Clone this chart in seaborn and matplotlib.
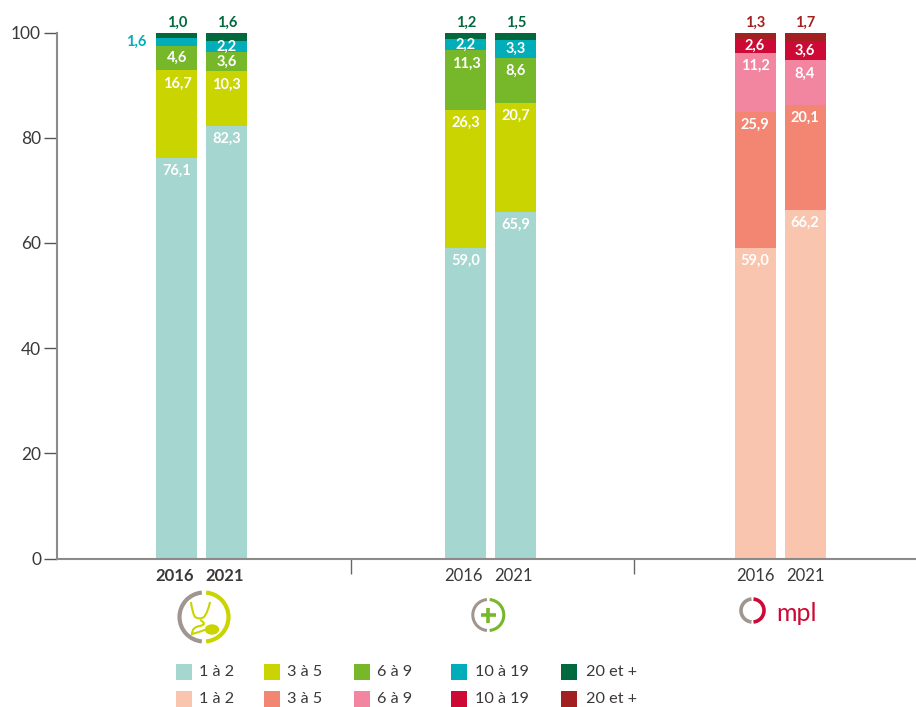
import pandas as pd
import seaborn as sns
import matplotlib.pyplot as plt
from matplotlib.patches import Arc, Ellipse, PathPatch, Rectangle
from matplotlib.path import Path
from matplotlib.transforms import ScaledTranslation

# Values
groups = ["medecins", "infirmiers", "ompl"]
years = ["2016", "2021"]
segments = ["1 à 2", "3 à 5", "6 à 9", "10 à 19", "20 et +"]
seg_1_2 = [76.1, 82.3, 59.0, 65.9, 59.0, 66.2]
seg_3_5 = [16.7, 10.3, 26.3, 20.7, 25.9, 20.1]
seg_6_9 = [4.6, 3.6, 11.3, 8.6, 11.2, 8.4]
seg_10_19 = [1.6, 2.2, 2.2, 3.3, 2.6, 3.6]
seg_20 = [1.0, 1.6, 1.2, 1.5, 1.3, 1.7]
all_segs = [seg_1_2, seg_3_5, seg_6_9, seg_10_19, seg_20]
yticks = [0, 20, 40, 60, 80, 100]

# Colours
colors_a = ["#a5d6cf", "#c9d400", "#77b82a", "#00adb9", "#00693e"]
colors_b = ["#f9c5af", "#f38573", "#f285a0", "#cc0a35", "#a32020"]
TXT = "#3c3838"
GREY = "#8f8a8a"

W, H = 916, 707
Y0, Y100 = 558.5, 32.5
X_LEFT = 57
px_per_unit = (Y0 - Y100) / 100

sns.set_theme(style="white")
plt.rcParams["font.family"] = ["Lato", "DejaVu Sans"]

fig = plt.figure(figsize=(W / 100, H / 100), dpi=100)
ax = fig.add_axes([X_LEFT / W, 1 - Y0 / H, 1 - X_LEFT / W, (Y0 - Y100) / H])

# long table, one row per segment of a bar
rows = []
for g in range(len(groups)):
    for y in range(len(years)):
        i = g * 2 + y
        top = 0
        for s in range(len(segments)):
            val = all_segs[s][i]
            top += val
            color = (colors_b if g == 2 else colors_a)[s]
            rows.append({"bar": i, "pos": g + (y - 0.5) * 0.173, "seg": s,
                         "value": val, "top": top, "color": color})
df = pd.DataFrame(rows)

# stacked by drawing the tallest cumulative first
for s in reversed(range(len(segments))):
    part = df[df["seg"] == s]
    sns.barplot(data=part, x="pos", y="top", hue="color",
                palette={c: c for c in part["color"].unique()},
                dodge=False, native_scale=True, width=0.82, saturation=1,
                errorbar=None, legend=False, linewidth=0, ax=ax)

ax.set_xlim(-0.5015, 2.4705)
ax.set_ylim(0, 100)
ax.set_xlabel("")
ax.set_ylabel("")

sns.despine(ax=ax, top=True, right=True)
for side in ["left", "bottom"]:
    ax.spines[side].set_color(GREY)
    ax.spines[side].set_linewidth(1.5)

ax.set_yticks(yticks)
ax.set_yticklabels([str(t) for t in yticks], fontsize=12.5, color=TXT)
ax.tick_params(axis="y", left=True, length=9.5, width=1, color="#555555", pad=2)

pos = df.drop_duplicates("bar")["pos"].tolist()
ax.set_xticks(pos)
ax.set_xticklabels(years * len(groups), fontsize=12, color=TXT)
ax.tick_params(axis="x", bottom=False, pad=1)
for lab in ax.get_xticklabels()[:2]:
    lab.set_fontweight("bold")
# year labels of the first two groups sit a little left of their bars
nudge = ScaledTranslation(-2.5 / 100, 0, fig.dpi_scale_trans)
for lab in ax.get_xticklabels()[:4]:
    lab.set_transform(lab.get_transform() + nudge)

# separators under the axis
ax.vlines([0.517, 1.496], -2.95, 0, color="#666666", lw=1, clip_on=False)

# value labels
for _, r in df.iterrows():
    txt = f"{r['value']:.1f}".replace(".", ",")
    if r["seg"] == 4:
        ax.annotate(txt, (r["pos"], 100), xytext=(0, 2), textcoords="offset points",
                    ha="center", va="bottom", fontsize=10.5, fontweight="bold",
                    color=r["color"])
    elif r["bar"] == 0 and r["seg"] == 3:
        ax.annotate(txt, (r["pos"], r["top"] - r["value"] / 2), xytext=(-29.5, 0),
                    textcoords="offset points", ha="center", va="center",
                    fontsize=10.5, fontweight="bold", color=r["color"])
    else:
        y = r["top"] - min(13 / px_per_unit, r["value"] / 2)
        ax.text(r["pos"], y, txt, ha="center", va="center", fontsize=10.5,
                fontweight="bold", color="white")

# overlay in pixel coordinates for the logos and the legend
over = fig.add_axes([0, 0, 1, 1], facecolor="none")
over.set_xlim(0, W)
over.set_ylim(H, 0)
over.axis("off")


def half_rings(cx, cy, r, lw, right_color):
    # y axis is inverted here so angles run clockwise on screen
    over.add_patch(Arc((cx, cy), 2 * r, 2 * r, theta1=95, theta2=265, color="#a09690", lw=lw))
    over.add_patch(Arc((cx, cy), 2 * r, 2 * r, theta1=-85, theta2=85, color=right_color, lw=lw))


half_rings(204, 617, 24.5, 3, "#c9d400")
half_rings(488.3, 615, 15.5, 2.2, "#77b82a")
half_rings(752.5, 610.5, 11.5, 2.6, "#cc0a35")

# stethoscope
lime = "#c9d400"
tube = Path([(191, 602), (192, 612), (195, 617), (200, 620),
             (204, 617), (208, 612), (210, 602)],
            [Path.MOVETO, Path.CURVE3, Path.CURVE3, Path.CURVE3,
             Path.CURVE3, Path.CURVE3, Path.CURVE3])
hose = Path([(200, 620), (208, 624), (200, 626), (192, 627),
             (192, 634), (200, 632), (210, 628)],
            [Path.MOVETO, Path.CURVE3, Path.CURVE3, Path.CURVE3,
             Path.CURVE3, Path.CURVE3, Path.CURVE3])
over.add_patch(PathPatch(tube, fc="none", ec=lime, lw=1.5))
over.add_patch(PathPatch(hose, fc="none", ec=lime, lw=1.5))
over.add_patch(Ellipse((212, 629.5), 13, 9, color=lime))

# plus sign
over.plot([480.5, 496], [615, 615], color="#77b82a", lw=2.6, solid_capstyle="butt")
over.plot([488.3, 488.3], [607.5, 622.5], color="#77b82a", lw=2.6, solid_capstyle="butt")

over.text(796, 621, "mpl", color="#cc0a35", fontsize=18, ha="center", va="baseline")

# legend
legend_x = [176, 264, 354, 451, 561]
text_x = [199, 287, 377, 475, 586]
legend_y = [672, 699]
for row, cols in enumerate([colors_a, colors_b]):
    for s in range(len(segments)):
        over.add_patch(Rectangle((legend_x[s], legend_y[row] - 8), 16, 16,
                                 color=cols[s], lw=0))
        over.text(text_x[s], legend_y[row], segments[s], fontsize=11.7, color=TXT,
                  ha="left", va="center")

fig.savefig("out.png", dpi=100)
